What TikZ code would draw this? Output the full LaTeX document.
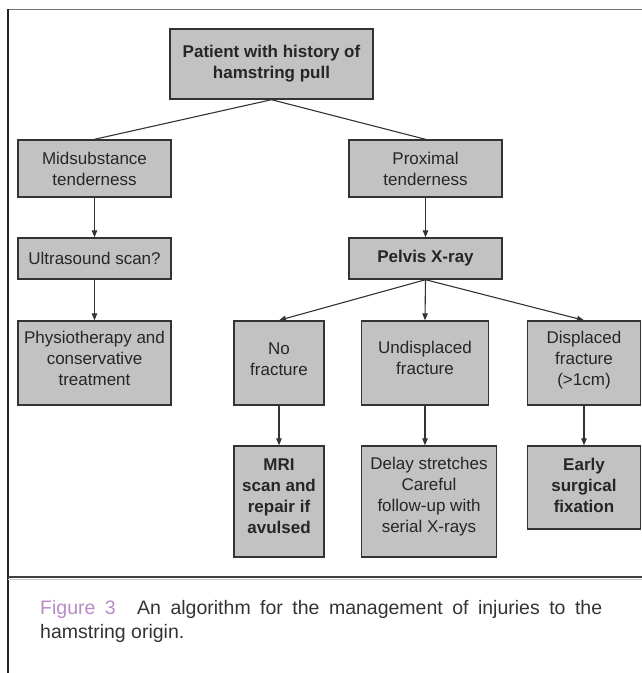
\documentclass[tikz,border=0pt]{standalone}
\usepackage{fontspec}
\setmainfont{Liberation Sans}
\usetikzlibrary{arrows.meta}
\definecolor{boxgray}{HTML}{C2C2C2}
\definecolor{edgegray}{HTML}{333333}
\definecolor{figpink}{HTML}{B88AC4}
\newcommand{\lift}[1]{\rule[-#1]{0pt}{#1}}
\begin{document}
\begin{tikzpicture}[
    x=1pt, y=-1pt,
    step box/.style={rectangle, draw=edgegray, line width=1.4pt, fill=boxgray, inner sep=2pt, align=center, text=black!85,
        font=\fontsize{17}{21}\selectfont},
    bold box/.style={step box, font=\fontsize{17}{21}\selectfont\bfseries},
    link/.style={draw=edgegray, line width=1.1pt},
    arr/.style={link, -{Triangle[length=7pt,width=5.5pt]}},
    caption/.style={font=\fontsize{19.5}{24}\selectfont, text=black!80, text width=562pt, align=justify, inner sep=0pt}
]
    \useasboundingbox (0,0) rectangle (642,673);

    % Frame
    \draw[black!55, line width=1pt] (8,9) -- (642,9);
    \draw[black!85, line width=1.2pt] (8,9) -- (8,673);
    \draw[black!75, line width=1.2pt] (8,577) -- (642,577);
    \draw[black!20, line width=0.8pt] (8,579) -- (642,579);

    % Boxes
    \node[bold box, minimum width=203pt, minimum height=70pt] (patient) at (271.5,64) {Patient with history of\\hamstring pull};

    \node[step box, minimum width=153pt, minimum height=57pt] (midsub) at (94.5,168.5) {Midsubstance\\tenderness};
    \node[step box, minimum width=153pt, minimum height=57pt] (proximal) at (425.5,168.5) {Proximal\\tenderness};

    \node[step box, minimum width=153pt, minimum height=41pt] (ultra) at (94.5,258.5) {Ultrasound scan?};
    \node[bold box, minimum width=153pt, minimum height=41pt] (pelvis) at (425.5,258.5) {Pelvis X-ray};

    \node[step box, minimum width=153pt, minimum height=84pt] (physio) at (94.5,363) {Physiotherapy and\\conservative\\treatment\lift{9pt}};
    \node[step box, minimum width=90pt, minimum height=84pt] (nofrac) at (279,363) {No\\fracture\lift{8pt}};
    \node[step box, minimum width=127.5pt, minimum height=84pt] (undisp) at (425,363) {Undisplaced\\fracture\lift{10pt}};
    \node[step box, minimum width=112.5pt, minimum height=84pt] (disp) at (584,363) {Displaced\\fracture\\(>1cm)\lift{9.5pt}};

    \node[bold box, minimum width=90pt, minimum height=111pt] (mri) at (279,501.5) {MRI\\scan and\\repair if\\avulsed\lift{11pt}};
    \node[step box, minimum width=135.5pt, minimum height=111pt] (delay) at (429,501.5) {Delay stretches\\Careful\\follow-up with\\serial X-rays\lift{12.5pt}};
    \node[bold box, minimum width=112.5pt, minimum height=83pt] (early) at (584,487.5) {Early\\surgical\\fixation\lift{5pt}};

    % Connectors
    \draw[link] (patient.south) -- (midsub.north);
    \draw[link] (patient.south) -- (proximal.north);
    \draw[arr] (midsub) -- (ultra);
    \draw[arr] (ultra) -- (physio);
    \draw[arr] (proximal) -- (pelvis);
    \draw[arr] (pelvis.south) -- (nofrac.north);
    \draw[arr] (pelvis.south) -- (undisp.north);
    \draw[arr] (pelvis.south) -- (disp.north);
    \draw[arr] (nofrac) -- (mri);
    \draw[arr] (undisp.south) -- (undisp.south |- delay.north);
    \draw[arr] (disp) -- (early);

    % Caption
    \node[caption, anchor=base west] (figcap) at (40,614) {\textcolor{figpink}{Figure 3}\hspace{1.1em}An algorithm for the management of injuries to the\linebreak hamstring origin.};

\end{tikzpicture}
\end{document}
